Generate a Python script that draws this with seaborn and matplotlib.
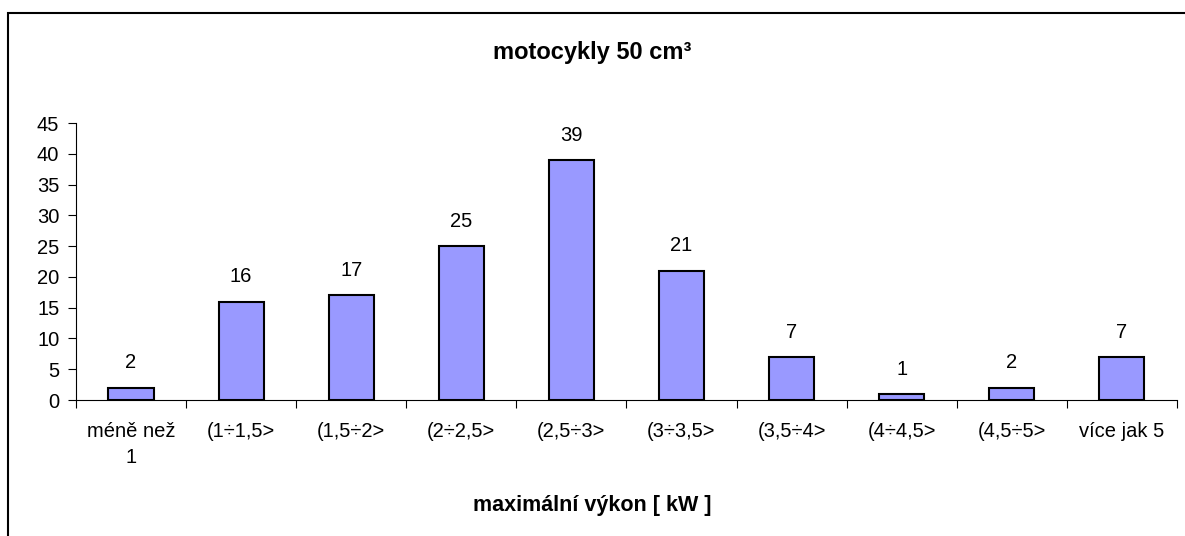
import pandas as pd
import numpy as np
import matplotlib.pyplot as plt
import seaborn as sns
from matplotlib.patches import Rectangle

# Data
categories = ["méně než\n1", "(1÷1,5>", "(1,5÷2>", "(2÷2,5>", "(2,5÷3>",
              "(3÷3,5>", "(3,5÷4>", "(4÷4,5>", "(4,5÷5>", "více jak 5"]
counts = [2, 16, 17, 25, 39, 21, 7, 1, 2, 7]
title = "motocykly 50 cm³"
xlabel = "maximální výkon [ kW ]"

df = pd.DataFrame({"kat": categories, "pocet": counts})

sns.set_theme(style="white")
plt.rcParams['font.family'] = ['Liberation Sans', 'DejaVu Sans']
plt.rcParams['text.color'] = 'black'
plt.rcParams['xtick.color'] = 'black'
plt.rcParams['ytick.color'] = 'black'

fig = plt.figure(figsize=(11.85, 5.36), dpi=100)
ax = fig.add_axes([0.0641, 0.2537, 0.9291, 0.5168])

sns.barplot(data=df, x="kat", y="pocet", color="#9999FF", saturation=1,
            edgecolor="black", linewidth=1.5, width=0.41, ax=ax)

for c in ax.containers:
    ax.bar_label(c, padding=11, fontsize=14.5, color="black")

ax.set_ylim(0, 45)
ax.set_yticks(np.arange(0, 46, 5))
ax.set_xlim(-0.5, len(categories) - 0.5)

# ticks at category boundaries, labels at centers
ax.set_xticks(np.arange(-0.5, len(categories), 1))
ax.set_xticklabels([])
ax.set_xticks(np.arange(len(categories)), minor=True)
ax.set_xticklabels(categories, minor=True, fontsize=14.5, linespacing=1.45, va="top")
ax.tick_params(axis="x", which="major", direction="out", length=5.5, width=0.8, color="black", bottom=True)
ax.tick_params(axis="x", which="minor", length=0, pad=16)
ax.tick_params(axis="y", direction="out", length=6, width=0.8, color="black", left=True, labelsize=14.5, pad=6)

for s in ["top", "right"]:
    ax.spines[s].set_visible(False)
for s in ["left", "bottom"]:
    ax.spines[s].set_color("black")
    ax.spines[s].set_linewidth(0.8)

ax.set_xlabel("")
ax.set_ylabel("")
fig.text(0.5, 1 - 53 / 536, title, ha="center", va="center", fontsize=17, fontweight="bold")
fig.text(0.5, 1 - 506 / 536, xlabel, ha="center", va="center", fontsize=15.5, fontweight="bold")

# outer chart border
fig.patches.append(Rectangle((8 / 1185, -0.05), 1.1, 1 - 13 / 536 + 0.05,
                             transform=fig.transFigure, fill=False,
                             edgecolor="black", linewidth=1.5))

fig.savefig("out.png", dpi=100)
